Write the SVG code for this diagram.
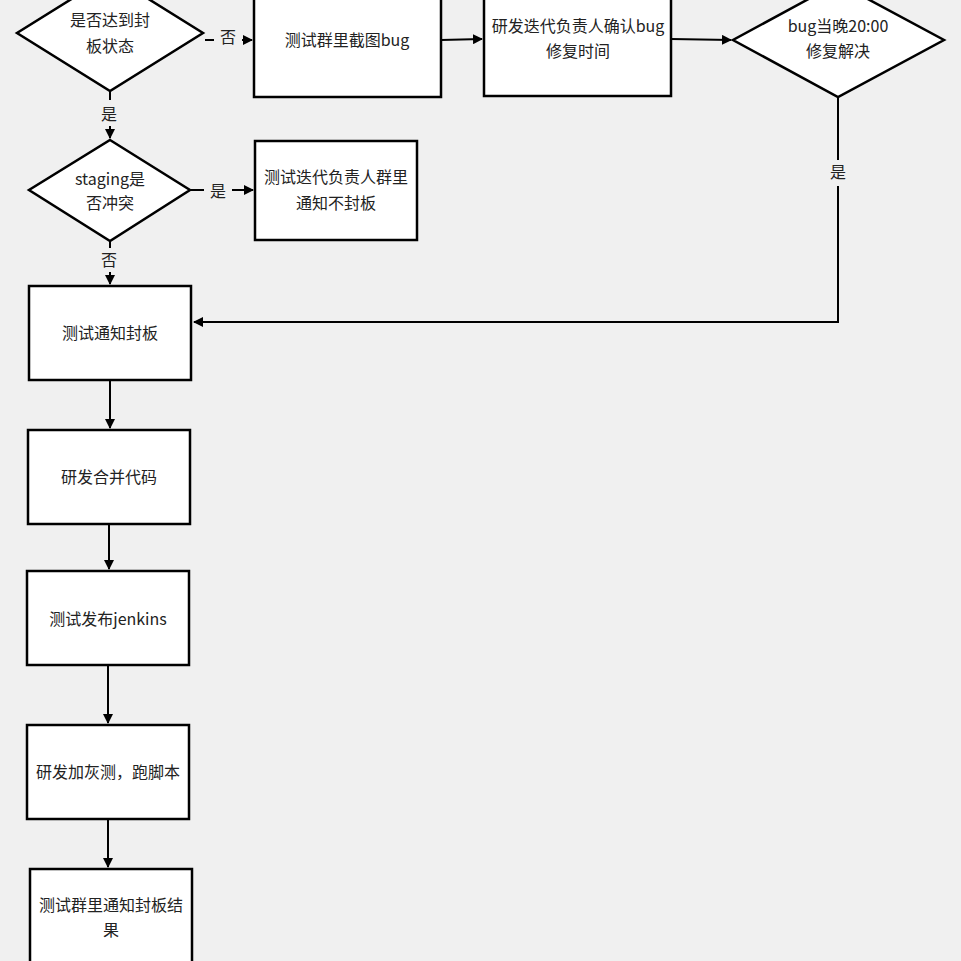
<svg xmlns="http://www.w3.org/2000/svg" width="961" height="961" viewBox="0 0 961 961">
<defs><marker id="a" markerWidth="10" markerHeight="10" refX="9" refY="5" orient="auto" markerUnits="userSpaceOnUse"><path d="M0,0 L10,5 L0,10 z" fill="#000"/></marker>
<style>.s{fill:#fff;stroke:#000;stroke-width:2.5}.t{font-family:"Noto Sans CJK SC","Noto Sans",sans-serif;font-size:16px;fill:#222;text-anchor:middle}.l{stroke:#000;stroke-width:2;fill:none}.lb{font-family:"Noto Sans CJK SC",sans-serif;font-size:16px;fill:#222;text-anchor:middle}</style></defs>
<rect width="961" height="961" fill="#f0f0f0"/>
<g id="connectors">
<path class="l" d="M205,40 H214 M242,40 H252" marker-end="url(#a)"/>
<path class="l" d="M441,40 L482,39" marker-end="url(#a)"/>
<path class="l" d="M671,39 L731,40" marker-end="url(#a)"/>
<path class="l" d="M838,97 V160 M838,186 V322 H194" marker-end="url(#a)"/>
<path class="l" d="M110,91 V100 M110,126 V138" marker-end="url(#a)"/>
<path class="l" d="M191,190 H204 M232,190 H253" marker-end="url(#a)"/>
<path class="l" d="M110,241 V248 M110,272 V284" marker-end="url(#a)"/>
<path class="l" d="M110,380 V428" marker-end="url(#a)"/>
<path class="l" d="M109,524 V569" marker-end="url(#a)"/>
<path class="l" d="M108,665 V723" marker-end="url(#a)"/>
<path class="l" d="M108,819 V867" marker-end="url(#a)"/>
<text class="lb" x="228" y="43">否</text>
<text class="lb" x="838" y="178">是</text>
<text class="lb" x="109" y="120">是</text>
<text class="lb" x="218" y="197">是</text>
<text class="lb" x="109" y="266">否</text>
</g>
<g id="d1"><polygon class="s" points="110,-25 203,33 110,91 17,33"/><text class="t" x="110" y="26">是否达到封</text><text class="t" x="110" y="52">板状态</text></g>
<g id="r1"><rect class="s" x="254" y="-15" width="187" height="112"/><text class="t" x="347" y="46">测试群里截图bug</text></g>
<g id="r2"><rect class="s" x="484" y="-15" width="187" height="111"/><text class="t" x="578" y="32">研发迭代负责人确认bug</text><text class="t" x="578" y="57">修复时间</text></g>
<g id="d3"><polygon class="s" points="838,-17 944,40 838,97 733,40"/><text class="t" x="838" y="32">bug当晚20:00</text><text class="t" x="838" y="57">修复解决</text></g>
<g id="d2"><polygon class="s" points="110,140 190,190 110,241 29,190"/><text class="t" x="110" y="185">staging是</text><text class="t" x="110" y="209">否冲突</text></g>
<g id="r3"><rect class="s" x="255" y="141" width="162" height="99"/><text class="t" x="336" y="183">测试迭代负责人群里</text><text class="t" x="336" y="209">通知不封板</text></g>
<g id="r4"><rect class="s" x="29" y="286" width="162" height="94"/><text class="t" x="110" y="339">测试通知封板</text></g>
<g id="r5"><rect class="s" x="28" y="430" width="162" height="94"/><text class="t" x="109" y="483">研发合并代码</text></g>
<g id="r6"><rect class="s" x="27" y="571" width="162" height="94"/><text class="t" x="108" y="625">测试发布jenkins</text></g>
<g id="r7"><rect class="s" x="27" y="725" width="162" height="94"/><text class="t" x="108" y="778">研发加灰测，跑脚本</text></g>
<g id="r8"><rect class="s" x="30" y="869" width="162" height="100"/><text class="t" x="111" y="911">测试群里通知封板结</text><text class="t" x="111" y="936">果</text></g>
</svg>
